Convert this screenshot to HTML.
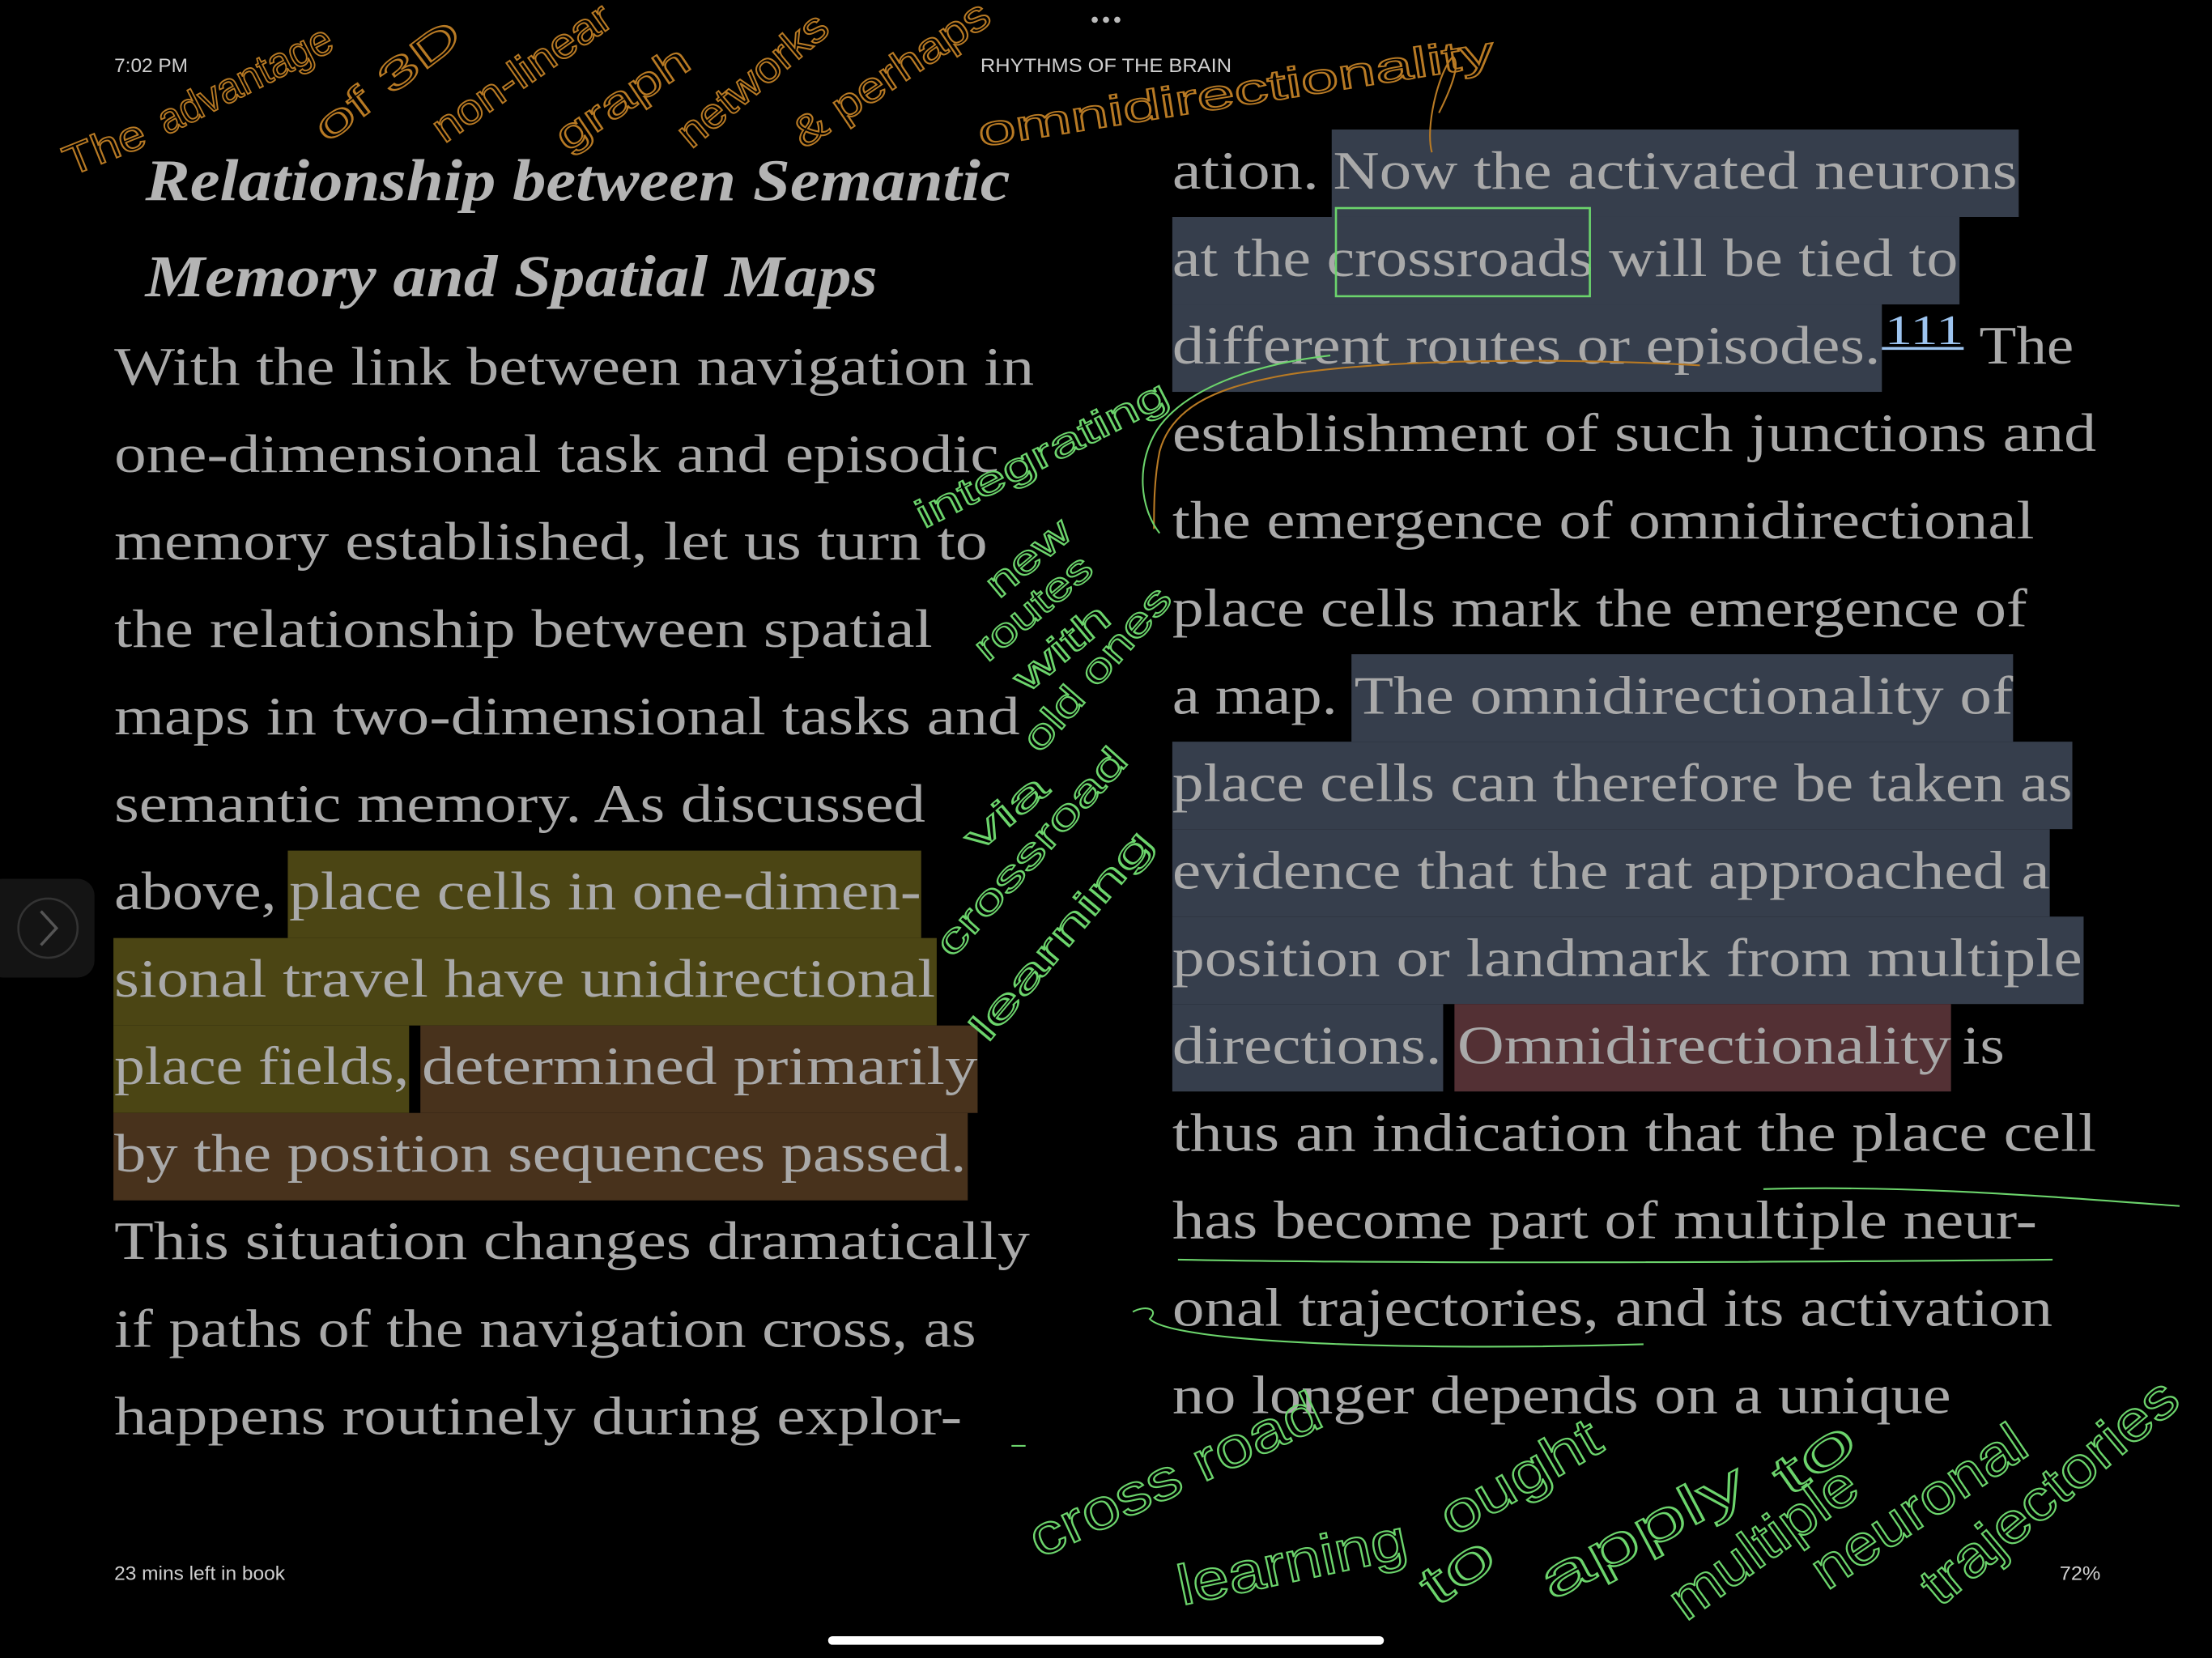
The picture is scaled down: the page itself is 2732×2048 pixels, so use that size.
<!DOCTYPE html>
<html><head><meta charset="utf-8">
<style>
html,body{margin:0;padding:0;background:#000;}
svg{display:block;}
.b{font-family:"Liberation Serif",serif;font-size:38px;fill:#a9a9a9;}
.h{font-family:"Liberation Serif",serif;font-size:42px;font-weight:bold;font-style:italic;fill:#b4b4b4;}
.ui{font-family:"Liberation Sans",sans-serif;font-size:14px;fill:#cfcfcf;}
.o{font-family:"Liberation Sans",sans-serif;font-size:30px;fill:none;stroke:#b87a24;stroke-width:1.1;}
.g{font-family:"Liberation Sans",sans-serif;font-size:28px;fill:none;stroke:#6cd46c;stroke-width:1.1;}
.g2{font-family:"Liberation Sans",sans-serif;font-size:40px;fill:none;stroke:#6cd46c;stroke-width:1.2;}
</style></head>
<body>
<svg width="2732" height="2048" viewBox="0 0 1568 1175.4" xmlns="http://www.w3.org/2000/svg">
<rect width="1568" height="1175.4" fill="#000"/>
<text class="ui" x="81" y="51">7:02 PM</text>
<text class="ui" x="695" y="51" textLength="178" lengthAdjust="spacingAndGlyphs">RHYTHMS OF THE BRAIN</text>
<circle cx="776" cy="14" r="2.2" fill="#bbb"/><circle cx="784" cy="14" r="2.2" fill="#bbb"/><circle cx="792" cy="14" r="2.2" fill="#bbb"/>
<text class="ui" x="81" y="1120" textLength="121" lengthAdjust="spacingAndGlyphs">23 mins left in book</text>
<text class="ui" x="1460" y="1120" textLength="29" lengthAdjust="spacingAndGlyphs">72%</text>
<rect x="587" y="1160" width="394" height="6" rx="3" fill="#fff"/>
<rect x="-10" y="623" width="77" height="70" rx="12" fill="#141414"/>
<circle cx="34" cy="658" r="21" fill="none" stroke="#333" stroke-width="1.5"/>
<path d="M29 646 L40 658 L29 670" fill="none" stroke="#555" stroke-width="2"/>

<g>
<rect x="204" y="603" width="449" height="62" fill="#4b4514"/>
<rect x="80.4" y="665" width="583.6" height="62" fill="#4b4514"/>
<rect x="80.4" y="727" width="209.6" height="62" fill="#4b4514"/>
<rect x="298" y="727" width="395" height="62" fill="#48321c"/>
<rect x="80.4" y="789" width="605.6" height="62" fill="#48321c"/>
<rect x="944" y="91.8" width="487" height="62" fill="#363e4c"/>
<rect x="831" y="153.8" width="558" height="62" fill="#363e4c"/>
<rect x="831" y="215.8" width="503" height="62" fill="#363e4c"/>
<rect x="958" y="463.8" width="469" height="62" fill="#363e4c"/>
<rect x="831" y="525.8" width="638" height="62" fill="#363e4c"/>
<rect x="831" y="587.8" width="622" height="62" fill="#363e4c"/>
<rect x="831" y="649.8" width="646" height="62" fill="#363e4c"/>
<rect x="831" y="711.8" width="192" height="62" fill="#363e4c"/>
<rect x="1031" y="711.8" width="352" height="62" fill="#533034"/>
</g>

<text class="h" x="103" y="142" textLength="613" lengthAdjust="spacingAndGlyphs">Relationship between Semantic</text>
<text class="h" x="103" y="210" textLength="519" lengthAdjust="spacingAndGlyphs">Memory and Spatial Maps</text>

<g class="b">
<text x="81" y="272.6" textLength="652" lengthAdjust="spacingAndGlyphs">With the link between navigation in</text>
<text x="81" y="334.6" textLength="627" lengthAdjust="spacingAndGlyphs">one-dimensional task and episodic</text>
<text x="81" y="396.6" textLength="619" lengthAdjust="spacingAndGlyphs">memory established, let us turn to</text>
<text x="81" y="458.6" textLength="580" lengthAdjust="spacingAndGlyphs">the relationship between spatial</text>
<text x="81" y="520.6" textLength="642" lengthAdjust="spacingAndGlyphs">maps in two-dimensional tasks and</text>
<text x="81" y="582.6" textLength="575" lengthAdjust="spacingAndGlyphs">semantic memory. As discussed</text>
<text x="81" y="644.6" textLength="115" lengthAdjust="spacingAndGlyphs">above,</text>
<text x="205" y="644.6" textLength="448" lengthAdjust="spacingAndGlyphs">place cells in one-dimen-</text>
<text x="81" y="706.6" textLength="582" lengthAdjust="spacingAndGlyphs">sional travel have unidirectional</text>
<text x="81" y="768.6" textLength="209" lengthAdjust="spacingAndGlyphs">place fields,</text>
<text x="299" y="768.6" textLength="394" lengthAdjust="spacingAndGlyphs">determined primarily</text>
<text x="81" y="830.6" textLength="604" lengthAdjust="spacingAndGlyphs">by the position sequences passed.</text>
<text x="81" y="892.6" textLength="649" lengthAdjust="spacingAndGlyphs">This situation changes dramatically</text>
<text x="81" y="954.6" textLength="611" lengthAdjust="spacingAndGlyphs">if paths of the navigation cross, as</text>
<text x="81" y="1016.6" textLength="601" lengthAdjust="spacingAndGlyphs">happens routinely during explor-</text>
</g>

<g class="b">
<text x="831" y="133.8" textLength="104" lengthAdjust="spacingAndGlyphs">ation.</text>
<text x="945" y="133.8" textLength="485" lengthAdjust="spacingAndGlyphs">Now the activated neurons</text>
<text x="831" y="195.8" textLength="557" lengthAdjust="spacingAndGlyphs">at the crossroads will be tied to</text>
<text x="831" y="257.8" textLength="502" lengthAdjust="spacingAndGlyphs">different routes or episodes.</text>
<text x="1403" y="257.8" textLength="67" lengthAdjust="spacingAndGlyphs">The</text>
<text x="831" y="319.8" textLength="655" lengthAdjust="spacingAndGlyphs">establishment of such junctions and</text>
<text x="831" y="381.8" textLength="611" lengthAdjust="spacingAndGlyphs">the emergence of omnidirectional</text>
<text x="831" y="443.8" textLength="606" lengthAdjust="spacingAndGlyphs">place cells mark the emergence of</text>
<text x="831" y="505.8" textLength="117" lengthAdjust="spacingAndGlyphs">a map.</text>
<text x="960" y="505.8" textLength="467" lengthAdjust="spacingAndGlyphs">The omnidirectionality of</text>
<text x="831" y="567.8" textLength="638" lengthAdjust="spacingAndGlyphs">place cells can therefore be taken as</text>
<text x="831" y="629.8" textLength="622" lengthAdjust="spacingAndGlyphs">evidence that the rat approached a</text>
<text x="831" y="691.8" textLength="645" lengthAdjust="spacingAndGlyphs">position or landmark from multiple</text>
<text x="831" y="753.8" textLength="191" lengthAdjust="spacingAndGlyphs">directions.</text>
<text x="1033" y="753.8" textLength="350" lengthAdjust="spacingAndGlyphs">Omnidirectionality</text>
<text x="1391" y="753.8" textLength="30" lengthAdjust="spacingAndGlyphs">is</text>
<text x="831" y="815.8" textLength="655" lengthAdjust="spacingAndGlyphs">thus an indication that the place cell</text>
<text x="831" y="877.8" textLength="613" lengthAdjust="spacingAndGlyphs">has become part of multiple neur-</text>
<text x="831" y="939.8" textLength="624" lengthAdjust="spacingAndGlyphs">onal trajectories, and its activation</text>
<text x="831" y="1001.8" textLength="552" lengthAdjust="spacingAndGlyphs">no longer depends on a unique</text>
</g>
<text x="1336" y="244" font-family="Liberation Serif, serif" font-size="30" fill="#9dc4ef" textLength="56" lengthAdjust="spacingAndGlyphs">111</text>
<rect x="1334" y="246" width="58" height="2" fill="#9dc4ef"/>
<rect x="947" y="147.5" width="180" height="62.5" fill="none" stroke="#6cd46c" stroke-width="1.5"/>

<g class="o">
<text transform="translate(50,125) rotate(-22)" textLength="60" lengthAdjust="spacingAndGlyphs">The</text>
<text transform="translate(118,96) rotate(-27)" textLength="135" lengthAdjust="spacingAndGlyphs">advantage</text>
<text transform="translate(232,102) rotate(-37)" textLength="122" lengthAdjust="spacingAndGlyphs">of 3D</text>
<text transform="translate(315,102) rotate(-35)" textLength="148" lengthAdjust="spacingAndGlyphs">non-linear</text>
<text transform="translate(402,108) rotate(-34)" textLength="108" lengthAdjust="spacingAndGlyphs">graph</text>
<text transform="translate(490,106) rotate(-40)" textLength="130" lengthAdjust="spacingAndGlyphs">networks</text>
<text transform="translate(570,106) rotate(-34)" textLength="162" lengthAdjust="spacingAndGlyphs">&amp; perhaps</text>
<text transform="translate(695,104) rotate(-9)" textLength="370" lengthAdjust="spacingAndGlyphs">omnidirectionality</text>
</g>
<path d="M1205 259 C1100 253 960 255 900 268 C860 276 830 290 822 320 C818 340 818 360 818 375" fill="none" stroke="#b87a24" stroke-width="1.2"/>
<path d="M1020 80 C1030 60 1035 45 1030 40 C1020 50 1010 90 1015 108" fill="none" stroke="#b87a24" stroke-width="1.2"/>

<path d="M943 252 C890 258 840 275 820 305 C805 330 808 360 822 378" fill="none" stroke="#6cd46c" stroke-width="1.2"/>
<g class="g">
<text transform="translate(655,375) rotate(-27)" textLength="197" lengthAdjust="spacingAndGlyphs">integrating</text>
<text transform="translate(708,425) rotate(-40)" textLength="70" lengthAdjust="spacingAndGlyphs">new</text>
<text transform="translate(700,470) rotate(-40)" textLength="100" lengthAdjust="spacingAndGlyphs">routes</text>
<text transform="translate(728,492) rotate(-40)" textLength="80" lengthAdjust="spacingAndGlyphs">with</text>
<text transform="translate(737,535) rotate(-49)" textLength="145" lengthAdjust="spacingAndGlyphs">old ones</text>
<text transform="translate(693,605) rotate(-40)" textLength="68" lengthAdjust="spacingAndGlyphs">via</text>
<text transform="translate(675,680) rotate(-48)" textLength="188" lengthAdjust="spacingAndGlyphs">crossroad</text>
<text transform="translate(700,740) rotate(-50)" textLength="185" lengthAdjust="spacingAndGlyphs">learning</text>
</g>
<g class="g2">
<text transform="translate(737,1105) rotate(-25)" textLength="224" lengthAdjust="spacingAndGlyphs">cross road</text>
<text transform="translate(838,1138) rotate(-12)" textLength="165" lengthAdjust="spacingAndGlyphs">learning</text>
<text transform="translate(1030,1090) rotate(-30)" textLength="125" lengthAdjust="spacingAndGlyphs">ought</text>
<text transform="translate(1018,1140) rotate(-35)" textLength="55" lengthAdjust="spacingAndGlyphs">to</text>
<text transform="translate(1100,1135) rotate(-28)" textLength="160" lengthAdjust="spacingAndGlyphs">apply</text>
<text transform="translate(1268,1062) rotate(-35)" textLength="62" lengthAdjust="spacingAndGlyphs">to</text>
<text transform="translate(1195,1150) rotate(-36)" textLength="155" lengthAdjust="spacingAndGlyphs">multiple</text>
<text transform="translate(1295,1128) rotate(-34)" textLength="175" lengthAdjust="spacingAndGlyphs">neuronal</text>
<text transform="translate(1375,1140) rotate(-40)" textLength="225" lengthAdjust="spacingAndGlyphs">trajectories</text>
</g>
<g fill="none" stroke="#6cd46c" stroke-width="1.2">
<path d="M1250 843 C1350 840 1450 848 1545 855"/>
<path d="M835 893 C1000 896 1250 895 1455 893"/>
<path d="M803 930 C812 925 822 928 815 935 C830 952 1000 958 1165 953"/>
<path d="M717 1025 L727 1025"/>
</g>
</svg>
</body></html>
